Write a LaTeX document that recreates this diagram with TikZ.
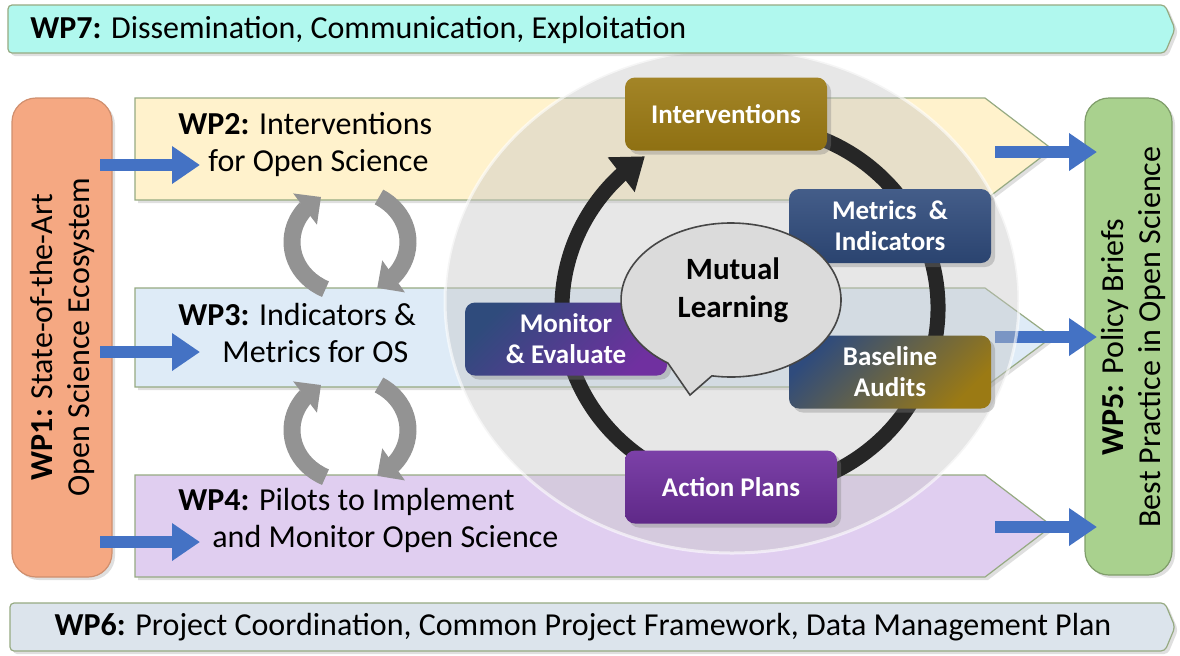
\documentclass[tikz,border=0pt]{standalone}
\usepackage{fontspec}
\setmainfont{Carlito}
\usetikzlibrary{arrows.meta,bending,shadows,positioning}

\definecolor{wpcyan}{RGB}{176,248,238}
\definecolor{wporange}{RGB}{245,168,130}
\definecolor{wpyellow}{RGB}{255,242,204}
\definecolor{wpblue}{RGB}{222,235,247}
\definecolor{wplilac}{RGB}{224,206,240}
\definecolor{wpgreen}{RGB}{169,209,142}
\definecolor{wpgrey}{RGB}{220,228,236}
\definecolor{wpline}{RGB}{150,170,130}
\definecolor{feedblue}{RGB}{68,114,196}
\definecolor{boxgold}{RGB}{155,122,20}
\definecolor{boxnavy}{RGB}{47,75,124}
\definecolor{boxpurple}{RGB}{112,48,160}
\definecolor{ringgrey}{RGB}{38,38,38}

\tikzset{
	band/.style={draw=wpline, line width=0.6pt,
		drop shadow={opacity=0.25, shadow xshift=1.5pt, shadow yshift=-1.5pt}},
	wptext/.style={font=\fontsize{16}{18.5}\selectfont, align=center, inner sep=0pt},
	bandtext/.style={wptext, align=left, anchor=west},
	cyclebox/.style={rounded corners=5pt, minimum width=101pt, minimum height=36.5pt,
		text=white, align=center, font=\bfseries\fontsize{13.5}{15.5}\selectfont,
		drop shadow={opacity=0.35, shadow xshift=2pt, shadow yshift=-2pt}},
	feed/.style={draw=feedblue, line width=6pt, -{Triangle[width=18pt,length=14pt]}},
	swapline/.style={draw=gray!85, line width=8.5pt, -{Triangle[width=19pt,length=10pt]}},
}

\begin{document}
\begin{tikzpicture}[x=0.5pt, y=0.5pt]
	\useasboundingbox (0,0) rectangle (1180,-655);
	\fill[white] (0,0) rectangle (1180,-655);

	% side boxes
	\filldraw[fill=wporange, draw=wporange!85!black, line width=0.6pt, rounded corners=12pt,
		drop shadow={opacity=0.25, shadow xshift=1.5pt, shadow yshift=-1.5pt}]
		(12,-98) rectangle (112,-577);
	\node[wptext, rotate=90] (wp1) at (62,-337)
		{{\bfseries WP1:} State-of-the-Art\\Open Science Ecosystem};
	\filldraw[fill=wpgreen, draw=wpgreen!75!black, line width=0.6pt, rounded corners=12pt,
		drop shadow={opacity=0.25, shadow xshift=1.5pt, shadow yshift=-1.5pt}]
		(1085,-98) rectangle (1172,-575);
	\node[wptext, rotate=90] (wp5) at (1133,-337)
		{{\bfseries WP5:} Policy Briefs\\Best Practice in Open Science};

	% work package bands
	\filldraw[band, fill=wpyellow]
		(135,-98) -- (985,-98) -- (1052,-149) -- (985,-200) -- (135,-200) -- cycle;
	\filldraw[band, fill=wpblue]
		(135,-288) -- (985,-288) -- (1052,-337) -- (985,-387) -- (135,-387) -- cycle;
	\filldraw[band, fill=wplilac]
		(135,-475) -- (985,-475) -- (1052,-526) -- (985,-577) -- (135,-577) -- cycle;
	\node[bandtext] (wp2) at (178,-145) {{\bfseries WP2:} Interventions\\\hspace*{15pt}for Open Science};
	\node[bandtext] (wp3) at (178,-333) {{\bfseries WP3:} Indicators \&\\\hspace*{22pt}Metrics for OS};
	\node[bandtext] (wp4) at (178,-520) {{\bfseries WP4:} Pilots to Implement\\\hspace*{17pt}and Monitor Open Science};

	% blue feeds in and out
	\coordinate (in2) at (100,-165);  \coordinate (to2) at (200,-165);
	\coordinate (in3) at (100,-352);  \coordinate (to3) at (200,-352);
	\coordinate (in4) at (100,-542);  \coordinate (to4) at (200,-542);
	\coordinate (out2) at (995,-152); \coordinate (br2) at (1097,-152);
	\coordinate (out3) at (995,-337); \coordinate (br3) at (1097,-337);
	\coordinate (out4) at (995,-527); \coordinate (br4) at (1097,-527);
	\foreach \a/\b in {in2/to2, in3/to3, in4/to4, out2/br2, out3/br3, out4/br4}
		\draw[feed] (\a) -- (\b);

	% grey swap arrows between bands
	\foreach \cy in {-242,-430}{
		\draw[swapline] (350,\cy) ++(245:58 and 52) arc[start angle=245, end angle=120, x radius=58, y radius=52];
		\draw[swapline] (350,\cy) ++(60:58 and 52) arc[start angle=60, end angle=-62, x radius=58, y radius=52];
	}

	% mutual learning cycle
	\fill[gray!45, opacity=0.42] (732,-301) ellipse [x radius=287, y radius=252];
	\draw[white, opacity=0.6, line width=1.5pt] (732,-301) ellipse [x radius=287, y radius=252];
	\draw[ringgrey, line width=7.5pt, -{Triangle[width=21pt,length=15pt]}]
		(750,-308) ++(75:188 and 183) arc[start angle=75, end angle=-236, x radius=188, y radius=183];

	\node[cyclebox, top color=boxgold!92!white, bottom color=boxgold!92!black] (interv) at (726,-114) {Interventions};
	\node[cyclebox, top color=boxnavy!90!white, bottom color=boxnavy!90!black, minimum height=37pt] (metrics) at (890,-226) {Metrics \ \&\\Indicators};
	\node[cyclebox, top color=boxnavy, bottom color=boxgold, shading angle=45] (audit) at (890,-372) {Baseline\\Audits};
	\node[cyclebox, top color=boxpurple!92!white, bottom color=boxpurple!85!black, minimum width=106pt] (plans) at (731,-487) {Action Plans};
	\node[cyclebox, top color=boxnavy, middle color=boxgold, bottom color=boxpurple, shading angle=45] (monitor) at (566,-339) {Monitor\\\& Evaluate};

	% speech bubble
	\filldraw[fill=gray!28, draw=gray!55!black, line width=0.8pt]
		(731,-300) ++(260:110 and 77) arc[start angle=260, end angle=595, x radius=110, y radius=77]
		-- (690,-395) -- cycle;
	\node[font=\bfseries\fontsize{15.5}{19}\selectfont, align=center] (mutual) at (733,-290) {Mutual\\Learning};

	% top and bottom bars
	\filldraw[band, fill=wpcyan, rounded corners=2pt]
		(8,-5) -- (1165,-5) -- (1175,-29) -- (1165,-53) -- (8,-53) -- cycle;
	\node[wptext, anchor=west] (wp7) at (30,-30) {{\bfseries WP7:} Dissemination, Communication, Exploitation};
	\filldraw[band, fill=wpgrey, rounded corners=2pt]
		(10,-603) -- (1165,-603) -- (1175,-627) -- (1165,-651) -- (10,-651) -- cycle;
	\node[wptext] (wp6) at (583,-627) {{\bfseries WP6:} Project Coordination, Common Project Framework, Data Management Plan};
\end{tikzpicture}
\end{document}
